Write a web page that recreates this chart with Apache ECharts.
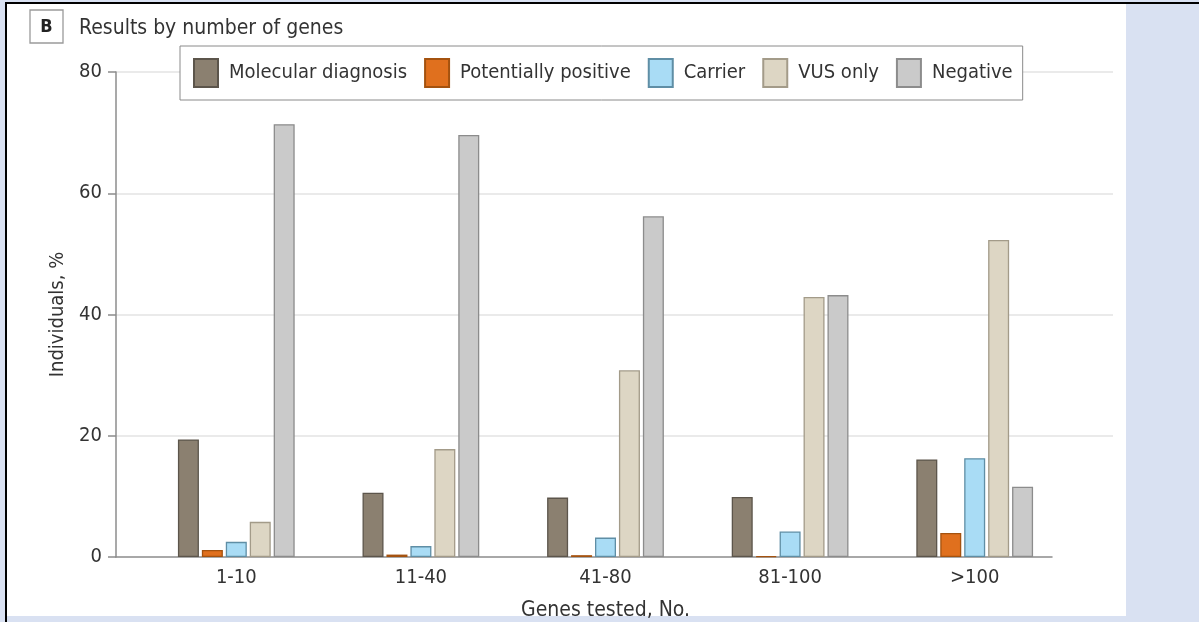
<!DOCTYPE html>
<html>
<head>
<meta charset="utf-8">
<script src="https://cdn.jsdelivr.net/npm/echarts@6/dist/echarts.min.js"></script>
<style>
html,body{margin:0;padding:0;background:#d9e1f2;}
#chart{width:1199px;height:622px;}
</style>
</head>
<body>
<div id="chart"></div>
<script>
const categories = ['1-10', '11-40', '41-80', '81-100', '>100'];
const molecularDiagnosis = [19.4, 10.6, 9.8, 9.9, 16.1];
const potentiallyPositive = [1.15, 0.4, 0.3, 0.15, 3.95];
const carrier = [2.5, 1.8, 3.2, 4.2, 16.3];
const vusOnly = [5.8, 17.8, 30.8, 42.9, 52.3];
const negative = [71.4, 69.6, 56.2, 43.2, 11.6];
const yTicks = [0, 20, 40, 60, 80];

const FONT = '"DejaVu Sans Condensed", "DejaVu Sans", sans-serif';
const chart = echarts.init(document.getElementById('chart'), null, {renderer: 'canvas'});

function bar(name, data, fill, border) {
  return {
    name: name, type: 'bar', data: data,
    xAxisIndex: 2, yAxisIndex: 2,
    barWidth: 21, barGap: '14%',
    itemStyle: {color: fill, borderColor: border, borderWidth: 1.3},
    z: 5
  };
}

const option = {
  backgroundColor: '#d9e1f2',
  animation: false,
  textStyle: {fontFamily: FONT},
  graphic: [
    {type: 'rect', shape: {x: 7, y: 4, width: 1119, height: 612}, style: {fill: '#ffffff'}, z: -10, silent: true},
    {type: 'rect', shape: {x: 5, y: 2, width: 2, height: 620}, style: {fill: '#000000'}, z: -9, silent: true},
    {type: 'rect', shape: {x: 5, y: 2, width: 1194, height: 2}, style: {fill: '#000000'}, z: -9, silent: true},
    {type: 'rect', shape: {x: 30, y: 10, width: 33, height: 33}, style: {fill: '#fff', stroke: '#9a9a9a', lineWidth: 1.3}, z: 10},
    {type: 'text', x: 46.5, y: 27, style: {text: 'B', font: 'bold 18px ' + FONT, fill: '#222', align: 'center', verticalAlign: 'middle'}, z: 11}
  ],
  title: {
    text: 'Results by number of genes',
    left: 74, top: 13,
    textStyle: {fontFamily: FONT, fontSize: 21, fontWeight: 'normal', color: '#333'}
  },
  legend: {
    left: 180, top: 46,
    orient: 'horizontal',
    itemWidth: 24, itemHeight: 28, itemGap: 17,
    padding: [12, 10, 12, 13],
    borderColor: '#8a8a8a', borderWidth: 1,
    backgroundColor: '#fff',
    icon: 'rect',
    textStyle: {fontFamily: FONT, fontSize: 20, color: '#333', padding: [0, 0, 0, 6]},
    z: 20
  },
  grid: [
    {left: 116, right: 86, top: 72, bottom: 65, outerBoundsMode: 'none', containLabel: false},
    {left: 116, right: 147, top: 72, bottom: 65, outerBoundsMode: 'none', containLabel: false},
    {left: 144, right: 132, top: 72, bottom: 65, outerBoundsMode: 'none', containLabel: false}
  ],
  xAxis: [
    {gridIndex: 0, type: 'value', show: false, min: 0, max: 1},
    {gridIndex: 1, type: 'value', min: 0, max: 1,
     axisLine: {show: true, lineStyle: {color: '#8c8c8c', width: 1.5}},
     axisTick: {show: false}, axisLabel: {show: false}, splitLine: {show: false}},
    {gridIndex: 2, type: 'category', data: categories,
     axisLine: {show: false}, axisTick: {show: false},
     axisLabel: {fontFamily: FONT, fontSize: 20, color: '#333', margin: 11},
     name: 'Genes tested, No.', nameLocation: 'middle', nameGap: 43,
     nameTextStyle: {fontFamily: FONT, fontSize: 21, color: '#333'}}
  ],
  yAxis: [
    {gridIndex: 0, type: 'value', min: 0, max: 80, interval: 20,
     axisLine: {show: true, lineStyle: {color: '#8c8c8c', width: 1.5}},
     axisTick: {show: true, inside: false, length: 8, lineStyle: {color: '#8c8c8c', width: 1.5}},
     axisLabel: {fontFamily: FONT, fontSize: 20, color: '#333', margin: 14,
                 formatter: function (v) { return yTicks.indexOf(v) >= 0 ? String(v) : ''; }},
     splitLine: {show: true, lineStyle: {color: ['transparent', '#e3e3e3', '#e3e3e3', '#e3e3e3', '#e3e3e3'], width: 1.5}},
     name: 'Individuals, %', nameLocation: 'middle', nameGap: 48,
     nameTextStyle: {fontFamily: FONT, fontSize: 20, color: '#333'}},
    {gridIndex: 1, type: 'value', min: 0, max: 80, show: false},
    {gridIndex: 2, type: 'value', min: 0, max: 80, show: false}
  ],
  series: [
    bar('Molecular diagnosis', molecularDiagnosis, '#8b8070', '#5c554b'),
    bar('Potentially positive', potentiallyPositive, '#e0701e', '#a4520f'),
    bar('Carrier', carrier, '#a9dcf5', '#5f8ea5'),
    bar('VUS only', vusOnly, '#ddd6c4', '#a39b89'),
    bar('Negative', negative, '#cacaca', '#8c8c8c')
  ]
};
chart.setOption(option);
</script>
</body>
</html>
